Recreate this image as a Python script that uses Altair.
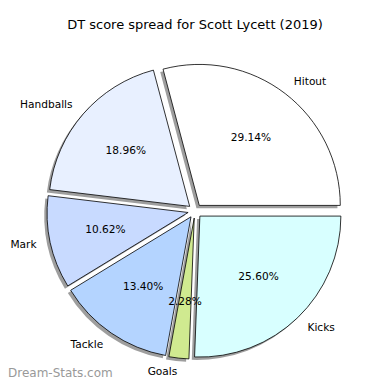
import math
import altair as alt
import pandas as pd

# ---- data ----
labels = ["Hitout", "Handballs", "Mark", "Tackle", "Goals", "Kicks"]
pcts = [29.14, 18.96, 10.62, 13.40, 2.28, 25.60]
colors = ["#ffffff", "#e8f0ff", "#c8daff", "#b4d4ff", "#d0ea90", "#d8ffff"]
title_text = "DT score spread for Scott Lycett (2019)"
watermark = "Dream-Stats.com"

# ---- layout (pixels) ----
W, H = 374, 344
PAD_TOP = 30
R = 141.0                   # pie radius in px
CXP, CYP = 187.0, 173.0     # pie centre in view px
EXPLODE = 0.05
SHADOW = 0.02

total = sum(pcts)
rows = []
cum = 0.0
for lab, p, c in zip(labels, pcts, colors):
    start = cum / total
    cum += p
    end = cum / total
    mid = (start + end) / 2 * 2 * math.pi  # matplotlib angle, ccw from 3 o'clock
    ox, oy = EXPLODE * math.cos(mid), EXPLODE * math.sin(mid)
    rows.append({
        "label": lab,
        "pct": p,
        "pct_text": f"{p:.2f}%",
        "color": c,
        "t1": math.pi / 2 - end * 2 * math.pi,
        "t2": math.pi / 2 - start * 2 * math.pi,
        "ox": ox, "oy": oy,
        "sx": ox - SHADOW, "sy": oy - SHADOW,
        "lx": ox + 1.1 * math.cos(mid), "ly": oy + 1.1 * math.sin(mid),
        "px": ox + 0.6 * math.cos(mid), "py": oy + 0.6 * math.sin(mid),
    })
df = pd.DataFrame(rows)

xdom = [-CXP / R, (W - CXP) / R]
ydom = [-(H - CYP) / R, CYP / R]
xs = alt.Scale(domain=xdom, nice=False, zero=False)
ys = alt.Scale(domain=ydom, nice=False, zero=False)

base = alt.Chart(df)

shadow = base.mark_arc(radius=R, fill="#000000", fillOpacity=0.38, stroke=None).encode(
    x=alt.X("sx:Q", scale=xs, axis=None),
    y=alt.Y("sy:Q", scale=ys, axis=None),
    theta=alt.Theta("t1:Q", scale=None),
    theta2=alt.Theta2("t2:Q"),
)

slices = base.mark_arc(radius=R, stroke="#000000", strokeWidth=0.8).encode(
    x=alt.X("ox:Q", scale=xs, axis=None),
    y=alt.Y("oy:Q", scale=ys, axis=None),
    theta=alt.Theta("t1:Q", scale=None),
    theta2=alt.Theta2("t2:Q"),
    fill=alt.Fill("color:N", scale=None),
)

font = "DejaVu Sans"
FS = 10.6
lab_right = base.transform_filter("datum.lx > 0").mark_text(
    align="left", baseline="middle", font=font, fontSize=FS, color="#000000"
).encode(
    x=alt.X("lx:Q", scale=xs, axis=None),
    y=alt.Y("ly:Q", scale=ys, axis=None),
    text="label:N",
)
lab_left = base.transform_filter("datum.lx <= 0").mark_text(
    align="right", baseline="middle", font=font, fontSize=FS, color="#000000"
).encode(
    x=alt.X("lx:Q", scale=xs, axis=None),
    y=alt.Y("ly:Q", scale=ys, axis=None),
    text="label:N",
)
pct_text = base.mark_text(
    align="center", baseline="middle", font=font, fontSize=FS, color="#000000"
).encode(
    x=alt.X("px:Q", scale=xs, axis=None),
    y=alt.Y("py:Q", scale=ys, axis=None),
    text="pct_text:N",
)

wm = alt.Chart(pd.DataFrame({"t": [watermark]})).mark_text(
    align="left", baseline="middle", font=font, fontSize=12, color="#999999"
).encode(
    x=alt.value(0),
    y=alt.value(335),
    text="t:N",
)

chart = alt.layer(shadow, slices, pct_text, lab_right, lab_left, wm).properties(
    width=W,
    height=H,
    padding={"left": 0, "top": PAD_TOP, "right": 0, "bottom": 0},
    autosize=alt.AutoSizeParams(type="none"),
    background="#ffffff",
    title=alt.TitleParams(
        title_text, font=font, fontSize=13, fontWeight="normal", color="#000000",
        anchor="middle", offset=6,
    ),
).configure_view(stroke=None)

chart.save("out.html", embed_options={"renderer": "svg", "actions": False})
